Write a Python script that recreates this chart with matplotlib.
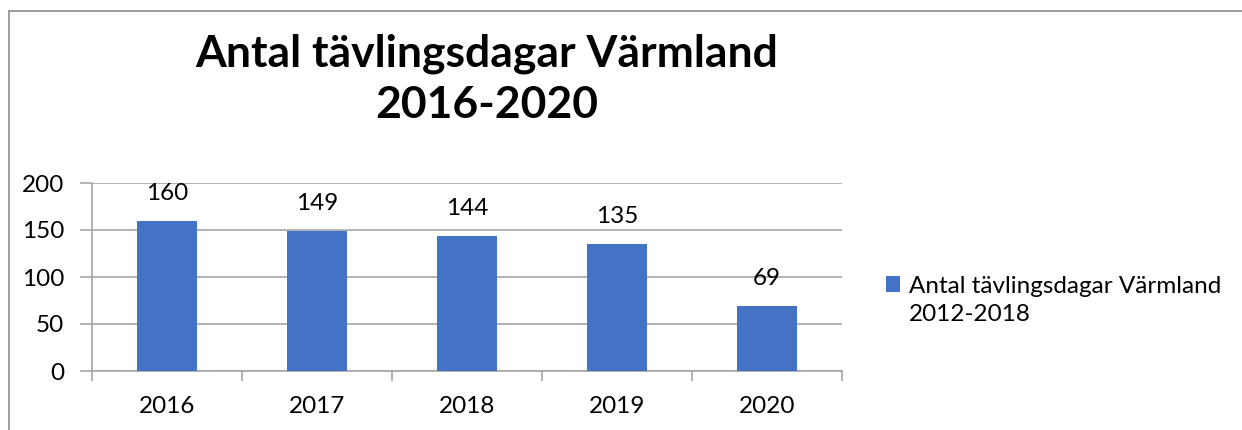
import matplotlib
matplotlib.use("Agg")
import matplotlib.pyplot as plt
from matplotlib.patches import Rectangle

# data
years = ["2016", "2017", "2018", "2019", "2020"]
days = [160, 149, 144, 135, 69]
series_name = "Antal tävlingsdagar Värmland"
series_period = "2012-2018"
title = "Antal tävlingsdagar Värmland\n2016-2020"
yticks = [0, 50, 100, 150, 200]

bar_color = "#4472C4"
grid_color = "#A6A6A6"
fs = 17.5

plt.rcParams["font.family"] = ["Lato", "DejaVu Sans"]

fig = plt.figure(figsize=(12.42, 4.30), dpi=100)
ax = fig.add_axes([92 / 1242, 1 - 371 / 430, 750 / 1242, 188 / 430])

x = range(len(years))
bars = ax.bar(x, days, width=0.4, color=bar_color, zorder=3)
ax.bar_label(bars, labels=[str(v) for v in days], padding=12, fontsize=fs)

ax.set_xlim(-0.5, len(years) - 0.5)
ax.set_ylim(0, 200)
ax.set_yticks(yticks)
ax.set_yticklabels([str(v) for v in yticks])
ax.yaxis.grid(True, color=grid_color, linewidth=1.2, zorder=0)

# x ticks sit on category boundaries, labels in the middle
ax.set_xticks([i - 0.5 for i in range(len(years) + 1)])
ax.set_xticklabels([])
ax.set_xticks(list(x), minor=True)
ax.set_xticklabels(years, minor=True)
ax.tick_params(axis="x", which="major", direction="out", length=7, color=grid_color, width=1.2)
ax.tick_params(axis="x", which="minor", length=0, pad=18, labelsize=fs)
ax.tick_params(axis="y", direction="out", length=9, color=grid_color, width=1.2, pad=11, labelsize=fs)

for side in ["top", "right"]:
    ax.spines[side].set_visible(False)
for side in ["left", "bottom"]:
    ax.spines[side].set_color(grid_color)
    ax.spines[side].set_linewidth(1.2)

fig.text(487 / 1242, 1 - 79 / 430, title, ha="center", va="center",
         fontsize=32, fontweight="bold", linespacing=1.32)

# legend: square next to the first line, second line below it
empty = Rectangle((0, 0), 1, 1, alpha=0)
leg = fig.legend([bars, empty], [series_name, series_period],
                 loc="upper left", bbox_to_anchor=(876 / 1242, 1 - 266 / 430),
                 frameon=False, fontsize=fs, handlelength=0.6, handleheight=0.6,
                 handletextpad=0.35, labelspacing=0.3, borderaxespad=0)

# thin grey chart border (top and left visible in the crop)
fig.patches.append(Rectangle((9 / 1242, -0.2), 1.2, 1.2 - 11 / 430,
                             transform=fig.transFigure, fill=False,
                             edgecolor="#8C8C8C", linewidth=1.2))

fig.savefig("out.png", dpi=100)
